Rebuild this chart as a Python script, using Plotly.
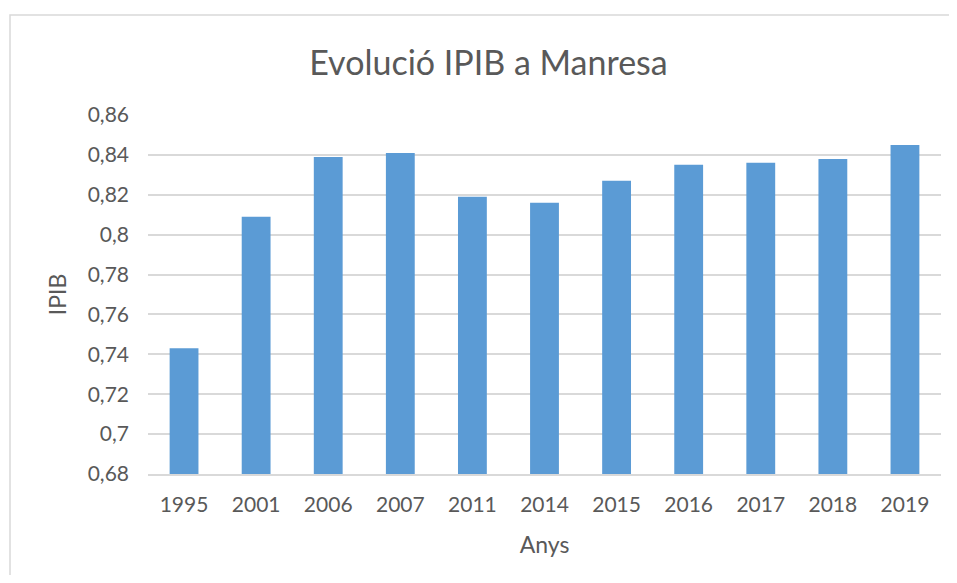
import plotly.graph_objects as go

years = ["1995", "2001", "2006", "2007", "2011", "2014", "2015", "2016", "2017", "2018", "2019"]
ipib = [0.743, 0.809, 0.839, 0.841, 0.819, 0.816, 0.827, 0.835, 0.836, 0.838, 0.845]
y_tickvals = [0.68, 0.70, 0.72, 0.74, 0.76, 0.78, 0.80, 0.82, 0.84, 0.86]
y_ticktext = ["0,68", "0,7", "0,72", "0,74", "0,76", "0,78", "0,8", "0,82", "0,84", "0,86"]

# page body has an 8px margin: figure occupies (8,8)-(949,575) of the window
OFF = 8
W, H = 957 - 2 * OFF, 583 - 2 * OFF
L, T = 148 - OFF, 115 - OFF
R = W - (941 - OFF)
B = H - (474 - OFF)
pw, ph = W - L - R, H - T - B

font = "Lato, 'Open Sans', sans-serif"
grey = "#595959"

fig = go.Figure(go.Bar(
    x=years, y=ipib,
    marker=dict(color="#5b9bd5", line=dict(width=0)),
))

# chart-area border: only its top and left edges are visible in the window
bx0 = (10 - OFF - L) / pw
bx1 = (W - L) / pw
by1 = (H - B - (15 - OFF)) / ph
by0 = -B / ph
border_path = f"M {bx1} {by1} L {bx0} {by1} L {bx0} {by0}"

fig.update_layout(
    width=W, height=H,
    margin=dict(l=L, r=R, t=T, b=B, autoexpand=False),
    paper_bgcolor="white", plot_bgcolor="white",
    bargap=0.6,
    showlegend=False,
    font=dict(family=font, color=grey, size=21),
    title=dict(text="Evolució IPIB a Manresa", x=(488.5 - OFF) / W, xanchor="center",
               y=1 - (63 - OFF) / H, yanchor="middle", xref="container", yref="container",
               font=dict(family=font, size=34, color=grey)),
    xaxis=dict(
        type="category", showgrid=False, showline=True, linecolor="#d9d9d9", linewidth=1.5,
        ticks="", ticklabelstandoff=11, automargin=False,
        tickfont=dict(size=21, color=grey),
        title=dict(text="Anys", font=dict(size=23, color=grey), standoff=22),
    ),
    yaxis=dict(
        range=[0.68, 0.86], tickvals=y_tickvals, ticktext=y_ticktext,
        showgrid=True, gridcolor="#d9d9d9", gridwidth=1.5, zeroline=False, showline=False,
        ticks="", ticklabelstandoff=18, automargin=False,
        tickfont=dict(size=21, color=grey),
        title=dict(text="IPIB", font=dict(size=23, color=grey), standoff=14),
    ),
    shapes=[dict(type="path", xref="paper", yref="paper", path=border_path,
                 line=dict(color="#d9d9d9", width=1.5), layer="below")],
)

fig.write_html("out.html")
